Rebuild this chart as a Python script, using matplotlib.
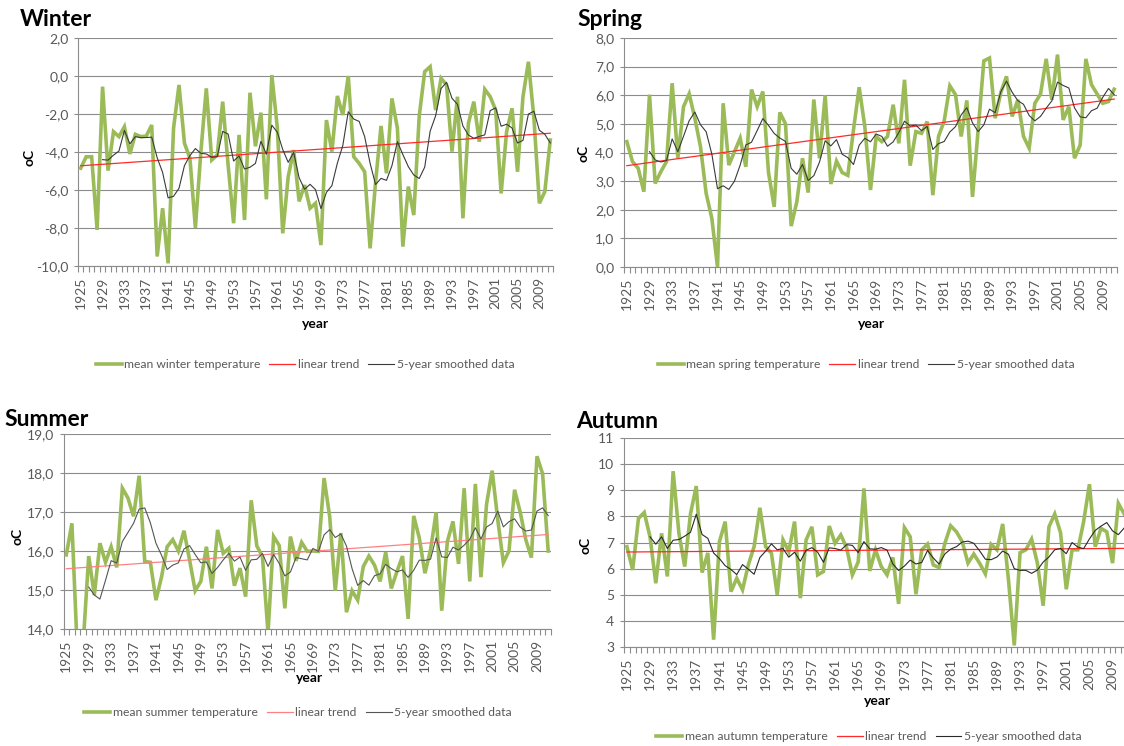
import numpy as np
import pandas as pd
import matplotlib
matplotlib.use("Agg")
import matplotlib.pyplot as plt
from matplotlib.ticker import FuncFormatter, FixedLocator
from matplotlib.lines import Line2D

years = np.arange(1925, 2012)

winter = [
    -4.85, -4.25, -4.25, -8.1, -0.56, -4.98, -2.93, -3.19, -2.67, -4.1,
    -3.07, -3.19, -3.16, -2.58, -9.5, -6.96, -9.86, -2.75, -0.47, -3.54,
    -4.33, -8.0, -4.0, -0.65, -4.42, -4.16, -1.35, -4.7, -7.75, -3.1,
    -7.58, -0.88, -3.7, -1.93, -6.49, 0.05, -2.7, -8.28, -5.3, -3.9,
    -6.6, -5.74, -6.96, -6.7, -8.9, -2.32, -3.98, -1.05, -2.05, 0.0,
    -4.25, -4.6, -5.04, -9.07, -5.6, -2.63, -5.12, -1.18, -2.75, -8.98,
    -5.82, -7.32, -2.1, 0.23, 0.49, -1.79, -0.12, -0.47, -3.98, -1.09,
    -7.49, -2.5, -1.35, -3.46, -0.7, -1.09, -1.79, -6.18, -2.93, -1.7,
    -5.04, -1.09, 0.75, -2.2, -6.7, -6.09, -3.37,
]

spring = [
    4.38, 3.68, 3.45, 2.63, 6.02, 2.92, 3.33, 3.68, 6.42, 3.8,
    5.6, 6.05, 5.2, 4.2, 2.57, 1.7, 0.0, 5.72, 3.56, 4.03,
    4.5, 3.5, 6.2, 5.6, 6.13, 3.3, 2.1, 5.4, 5.0, 1.43,
    2.28, 3.8, 2.6, 5.85, 3.8, 6.0, 2.9, 3.7, 3.3, 3.2,
    4.8, 6.28, 4.9, 2.69, 4.56, 4.38, 4.56, 5.67, 4.32, 6.54,
    3.54, 4.73, 4.67, 5.08, 2.51, 4.56, 5.1, 6.33, 6.02, 4.56,
    5.82, 2.45, 4.8, 7.2, 7.3, 5.2, 6.1, 6.66, 5.26, 5.84,
    4.56, 4.15, 5.72, 6.04, 7.27, 5.84, 7.42, 5.14, 5.6, 3.8,
    4.26, 7.27, 6.37, 6.04, 5.72, 5.78, 6.21,
]

summer = [
    15.9, 16.71, 13.3, 13.6, 15.87, 14.87, 16.2, 15.71, 16.11, 15.58,
    17.61, 17.36, 16.89, 17.93, 15.73, 15.71, 14.74, 15.34, 16.11, 16.29,
    16.0, 16.52, 15.77, 14.98, 15.22, 16.11, 15.04, 16.54, 15.94, 16.07,
    15.11, 15.56, 14.83, 17.3, 16.13, 15.86, 13.9, 16.37, 16.14, 14.53,
    16.37, 15.75, 16.22, 15.99, 16.0, 15.99, 17.87, 16.89, 14.98, 16.46,
    14.43, 14.98, 14.74, 15.6, 15.87, 15.64, 15.22, 15.97, 15.04, 15.47,
    15.87, 14.26, 16.9, 16.33, 15.43, 16.03, 16.99, 14.47, 16.24, 16.76,
    15.67, 17.61, 15.22, 17.72, 15.33, 17.2, 18.06, 16.8, 15.7, 16.0,
    17.57, 17.0, 16.29, 15.83, 18.43, 17.98, 16.0,
]

autumn = [
    6.84, 5.95, 7.92, 8.15, 7.22, 5.44, 7.35, 5.7, 9.73, 7.35,
    6.08, 8.1, 9.16, 5.85, 6.6, 3.28, 7.03, 7.8, 5.12, 5.63,
    5.19, 6.14, 6.84, 8.33, 6.84, 6.59, 5.0, 7.1, 6.65, 7.8,
    4.87, 7.1, 7.6, 5.76, 5.89, 7.63, 6.97, 7.29, 6.8, 5.76,
    6.25, 9.07, 5.91, 6.72, 6.08, 5.76, 6.43, 4.65, 7.57, 7.22,
    5.02, 6.72, 6.94, 6.14, 6.04, 6.97, 7.64, 7.41, 7.03, 6.21,
    6.56, 6.21, 5.8, 6.93, 6.72, 7.71, 5.57, 3.06, 6.61, 6.72,
    7.13, 6.21, 4.58, 7.6, 8.09, 7.38, 5.21, 6.72, 6.72, 7.8,
    9.23, 6.84, 7.54, 7.41, 6.21, 8.5, 8.1,
]

year_labels = list(range(1925, 2012, 4))

plt.rcParams["font.family"] = ["Lato", "DejaVu Sans"]

W, H = 1124, 746
fig = plt.figure(figsize=(W / 100, H / 100), dpi=100)

GREEN = "#9BBB59"
GRID = "#8C8C8C"
TICKTXT = "#595959"


def px_box(l, t, r, b):
    return [l / W, 1 - b / H, (r - l) / W, (b - t) / H]


def fx(x):
    return x / W


def fy(y):
    return 1 - y / H


panels = [
    dict(name="Winter", label="mean winter temperature", data=winter,
         ylim=(-10, 2), step=2, dec=1, box=(78, 38, 553, 266),
         title=(20, 20), ylab=(29, 157), xlab=(316, 324), leg=(305, 365),
         trend="#FF2A2A", smooth="#3A3A3A"),
    dict(name="Spring", label="mean spring temperature", data=spring,
         ylim=(0, 8), step=1, dec=1, box=(624, 38, 1117, 267),
         title=(577, 20), ylab=(584, 153), xlab=(872, 324), leg=(866, 365),
         trend="#FF2A2A", smooth="#3A3A3A"),
    dict(name="Summer", label="mean summer temperature", data=summer,
         ylim=(14, 19), step=1, dec=1, box=(63.5, 434, 551, 629),
         title=(4, 419), ylab=(17, 536), xlab=(310, 678), leg=(298, 713),
         trend="#FF8080", smooth="#555555"),
    dict(name="Autumn", label="mean autumn temperature", data=autumn,
         ylim=(3, 11), step=1, dec=0, box=(624, 438, 1127, 647),
         title=(576, 421), ylab=(585, 545), xlab=(878, 701), leg=(869, 737),
         trend="#FF2A2A", smooth="#2A2A2A"),
]

for p in panels:
    ax = fig.add_axes(px_box(*p["box"]))
    vals = np.asarray(p["data"], dtype=float)
    smooth = pd.Series(vals, index=years).rolling(5).mean()
    coef = np.polyfit(years, vals, 1)
    trend = np.polyval(coef, years)

    ax.plot(years, vals, color=GREEN, lw=2.6, solid_joinstyle="miter", zorder=3)
    ax.plot(years, trend, color=p["trend"], lw=0.9, zorder=4)
    ax.plot(years, smooth.values, color=p["smooth"], lw=0.8, zorder=5)

    ax.set_xlim(1924.5, 2011.5)
    lo, hi = p["ylim"]
    ax.set_ylim(lo, hi)
    ax.yaxis.set_major_locator(FixedLocator(np.arange(lo, hi + 0.001, p["step"])))
    dec = p["dec"]
    ax.yaxis.set_major_formatter(
        FuncFormatter(lambda v, pos, d=dec: f"{v:.{d}f}".replace(".", ","))
    )
    ax.set_xticks(year_labels)
    ax.set_xticklabels([str(y) for y in year_labels], rotation=90)
    ax.set_xticks(np.arange(1924.5, 2012, 1), minor=True)

    ax.yaxis.grid(True, color=GRID, lw=0.8)
    ax.set_axisbelow(True)
    for side in ("top", "right"):
        ax.spines[side].set_visible(False)
    for side in ("left", "bottom"):
        ax.spines[side].set_color(GRID)
        ax.spines[side].set_linewidth(0.8)

    ax.tick_params(axis="y", length=3, width=0.8, color=GRID,
                   labelcolor=TICKTXT, labelsize=10, pad=4)
    ax.tick_params(axis="x", which="major", length=0, pad=8,
                   labelcolor=TICKTXT, labelsize=10)
    ax.tick_params(axis="x", which="minor", length=4, width=0.8, color=GRID)

    tx, ty = p["title"]
    fig.text(fx(tx), fy(ty), p["name"], fontsize=16.5, fontweight="bold",
             ha="left", va="center", color="black")
    lx, ly = p["ylab"]
    fig.text(fx(lx), fy(ly), "oC", fontsize=10, fontweight="bold",
             rotation=90, ha="center", va="center", color="black")
    xx, xy = p["xlab"]
    fig.text(fx(xx), fy(xy), "year", fontsize=10, fontweight="bold",
             ha="center", va="center", color="black")

    handles = [
        Line2D([], [], color=GREEN, lw=2.6),
        Line2D([], [], color=p["trend"], lw=0.9),
        Line2D([], [], color=p["smooth"], lw=0.8),
    ]
    labels = [p["label"], "linear trend", "5-year smoothed data"]
    gx, gy = p["leg"]
    fig.legend(handles, labels, loc="center", bbox_to_anchor=(fx(gx), fy(gy)),
               ncol=3, frameon=False, fontsize=8.7, handlelength=2.15,
               handletextpad=0.2, columnspacing=0.75, labelcolor=TICKTXT,
               borderaxespad=0, borderpad=0)

fig.savefig("out.png", dpi=100)
